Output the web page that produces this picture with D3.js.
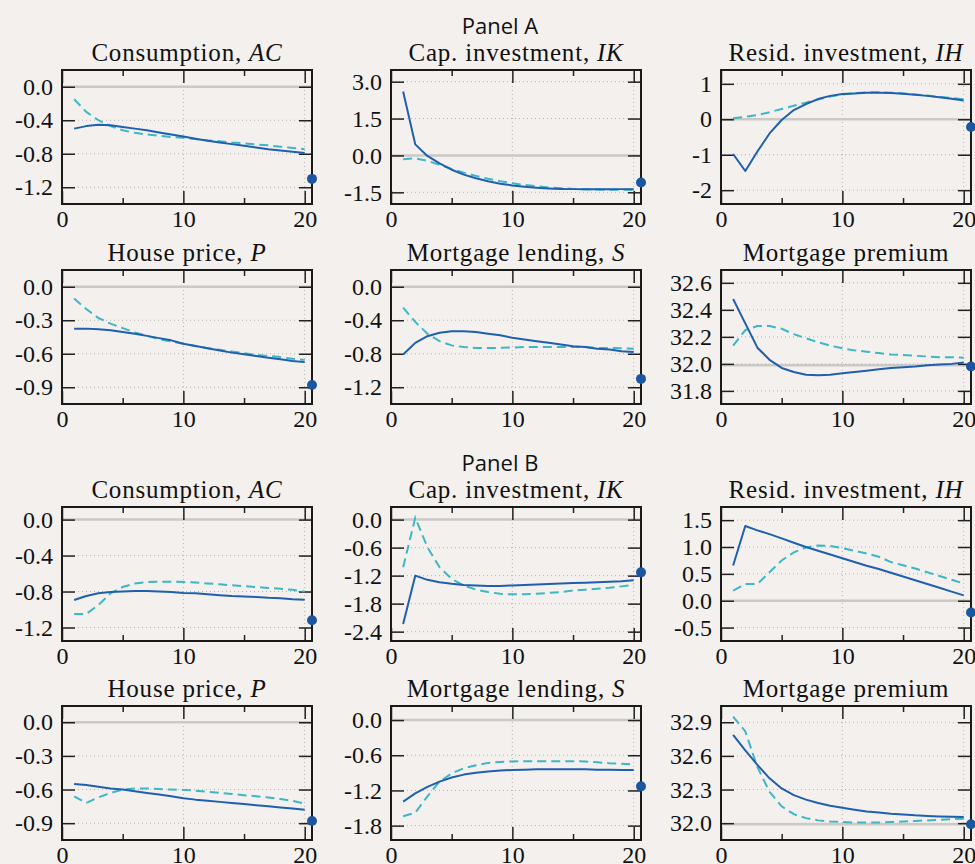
<!DOCTYPE html>
<html>
<head>
<meta charset="utf-8">
<script src="https://cdn.jsdelivr.net/npm/d3@7"></script>
<style>
  body { margin: 0; background: #f3f0ed; }
  svg { display: block; }
</style>
</head>
<body>
<svg id="chart"></svg>
<script>
'use strict';

// periods after the shock
var periods = [1, 2, 3, 4, 5, 6, 7, 8, 9, 10, 11, 12, 13, 14, 15, 16, 17, 18, 19, 20];
var xTicksMajor = [0, 10, 20];
var xTicksMinor = [5, 15];

var panelNames = ["Panel A", "Panel B"];
var titles = [
    ["Consumption, ", "AC"],
    ["Cap. investment, ", "IK"],
    ["Resid. investment, ", "IH"],
    ["House price, ", "P"],
    ["Mortgage lending, ", "S"],
    ["Mortgage premium", ""]
];

// ---- Panel A ----
var aConsSolid = [-0.50, -0.47, -0.455, -0.46, -0.48, -0.50, -0.52, -0.545, -0.57, -0.595, -0.62, -0.645, -0.665, -0.685, -0.705, -0.725, -0.745, -0.76, -0.775, -0.79];
var aConsDash = [-0.15, -0.30, -0.40, -0.47, -0.52, -0.55, -0.57, -0.585, -0.60, -0.61, -0.625, -0.64, -0.65, -0.665, -0.675, -0.69, -0.70, -0.715, -0.73, -0.745];
var aCapSolid = [2.6, 0.45, -0.02, -0.32, -0.58, -0.78, -0.93, -1.05, -1.15, -1.22, -1.27, -1.31, -1.34, -1.36, -1.37, -1.38, -1.38, -1.38, -1.37, -1.37];
var aCapDash = [-0.15, -0.12, -0.22, -0.38, -0.55, -0.70, -0.83, -0.95, -1.05, -1.13, -1.20, -1.25, -1.30, -1.33, -1.36, -1.38, -1.39, -1.40, -1.40, -1.40];
var aResSolid = [-0.98, -1.46, -0.91, -0.40, -0.02, 0.26, 0.43, 0.57, 0.66, 0.71, 0.73, 0.75, 0.75, 0.74, 0.72, 0.69, 0.66, 0.62, 0.58, 0.53];
var aResDash = [0.03, 0.07, 0.12, 0.20, 0.29, 0.38, 0.47, 0.56, 0.64, 0.70, 0.74, 0.76, 0.76, 0.75, 0.73, 0.70, 0.67, 0.63, 0.60, 0.56];
var aHouseSolid = [-0.375, -0.375, -0.38, -0.39, -0.405, -0.42, -0.44, -0.46, -0.48, -0.51, -0.53, -0.55, -0.57, -0.59, -0.605, -0.62, -0.635, -0.65, -0.665, -0.675];
var aHouseDash = [-0.105, -0.20, -0.28, -0.33, -0.37, -0.41, -0.44, -0.47, -0.49, -0.51, -0.53, -0.55, -0.565, -0.58, -0.595, -0.61, -0.62, -0.63, -0.645, -0.655];
var aLendSolid = [-0.81, -0.67, -0.59, -0.55, -0.53, -0.53, -0.54, -0.56, -0.58, -0.61, -0.63, -0.65, -0.67, -0.69, -0.71, -0.72, -0.74, -0.75, -0.77, -0.78];
var aLendDash = [-0.25, -0.42, -0.56, -0.65, -0.70, -0.72, -0.73, -0.73, -0.73, -0.725, -0.72, -0.72, -0.72, -0.72, -0.72, -0.72, -0.73, -0.73, -0.735, -0.74];
var aPremSolid = [32.48, 32.30, 32.12, 32.03, 31.97, 31.94, 31.92, 31.915, 31.92, 31.93, 31.94, 31.95, 31.96, 31.97, 31.975, 31.98, 31.99, 31.995, 32.0, 32.01];
var aPremDash = [32.135, 32.25, 32.28, 32.28, 32.26, 32.22, 32.19, 32.16, 32.135, 32.115, 32.10, 32.09, 32.08, 32.07, 32.065, 32.06, 32.055, 32.05, 32.05, 32.045];
var aDots = [-1.1, -1.1, -0.22, -0.88, -1.1, 31.98];

// ---- Panel B ----
var bConsSolid = [-0.894, -0.85, -0.82, -0.805, -0.80, -0.795, -0.795, -0.80, -0.805, -0.816, -0.82, -0.83, -0.84, -0.85, -0.855, -0.86, -0.87, -0.875, -0.885, -0.89];
var bConsDash = [-1.05, -1.05, -0.95, -0.82, -0.75, -0.71, -0.695, -0.69, -0.69, -0.695, -0.70, -0.71, -0.72, -0.73, -0.74, -0.75, -0.76, -0.77, -0.78, -0.80];
var bCapSolid = [-2.235, -1.20, -1.29, -1.34, -1.375, -1.40, -1.41, -1.42, -1.42, -1.41, -1.40, -1.39, -1.38, -1.37, -1.36, -1.35, -1.34, -1.33, -1.32, -1.30];
var bCapDash = [-1.02, 0.04, -0.59, -1.02, -1.27, -1.41, -1.50, -1.55, -1.59, -1.60, -1.60, -1.59, -1.57, -1.55, -1.52, -1.50, -1.48, -1.46, -1.43, -1.40];
var bResSolid = [0.656, 1.39, 1.31, 1.24, 1.16, 1.08, 1.00, 0.93, 0.86, 0.79, 0.72, 0.65, 0.59, 0.52, 0.45, 0.38, 0.31, 0.24, 0.17, 0.10];
var bResDash = [0.19, 0.31, 0.31, 0.53, 0.75, 0.90, 0.99, 1.03, 1.02, 0.98, 0.93, 0.88, 0.82, 0.72, 0.66, 0.60, 0.53, 0.46, 0.39, 0.32];
var bHouseSolid = [-0.55, -0.56, -0.575, -0.59, -0.60, -0.615, -0.63, -0.645, -0.66, -0.677, -0.69, -0.70, -0.71, -0.72, -0.73, -0.74, -0.75, -0.76, -0.77, -0.78];
var bHouseDash = [-0.66, -0.72, -0.67, -0.63, -0.60, -0.59, -0.59, -0.595, -0.60, -0.603, -0.61, -0.62, -0.63, -0.64, -0.65, -0.66, -0.67, -0.685, -0.70, -0.727];
var bLendSolid = [-1.39, -1.25, -1.14, -1.05, -0.98, -0.93, -0.90, -0.875, -0.86, -0.85, -0.845, -0.84, -0.84, -0.84, -0.84, -0.84, -0.845, -0.845, -0.85, -0.85];
var bLendDash = [-1.64, -1.58, -1.30, -1.05, -0.91, -0.82, -0.77, -0.73, -0.715, -0.705, -0.70, -0.70, -0.70, -0.70, -0.70, -0.705, -0.72, -0.735, -0.745, -0.755];
var bPremSolid = [32.787, 32.65, 32.52, 32.40, 32.31, 32.25, 32.21, 32.18, 32.155, 32.137, 32.12, 32.105, 32.095, 32.085, 32.078, 32.07, 32.065, 32.06, 32.057, 32.055];
var bPremDash = [32.95, 32.82, 32.50, 32.28, 32.15, 32.08, 32.045, 32.025, 32.015, 32.01, 32.005, 32.005, 32.005, 32.01, 32.015, 32.02, 32.025, 32.03, 32.035, 32.04];
var bDots = [-1.12, -1.13, -0.22, -0.88, -1.13, 31.99];

// y tick values per chart
var aYTicks = [[0, -0.4, -0.8, -1.2], [3, 1.5, 0, -1.5], [1, 0, -1, -2], [0, -0.3, -0.6, -0.9], [0, -0.4, -0.8, -1.2], [32.6, 32.4, 32.2, 32.0, 31.8]];
var bYTicks = [[0, -0.4, -0.8, -1.2], [0, -0.6, -1.2, -1.8, -2.4], [1.5, 1.0, 0.5, 0.0, -0.5], [0, -0.3, -0.6, -0.9], [0, -0.6, -1.2, -1.8], [32.9, 32.6, 32.3, 32.0]];
var refLevels = [0, 0, 0, 0, 0, 31.99];

// ---- layout ----
var svgWidth = 975, svgHeight = 864;
var colLefts = [62, 391, 721];
var rowTops = [70, 270, 507, 706];
var boxW = 250, boxH = 134;
var xMax = 20.6;
var serif = '"Liberation Serif", "Times New Roman", serif';

var locale = d3.formatLocale({ decimal: ".", thousands: ",", grouping: [3], currency: ["$", ""], minus: "-" });
var fmt1 = locale.format(".1f");
var fmt0 = locale.format("d");

var charts = [
    { s: aConsSolid, d: aConsDash, dot: aDots[0], dom: [-1.4, 0.2], ticks: aYTicks[0], f: fmt1 },
    { s: aCapSolid, d: aCapDash, dot: aDots[1], dom: [-1.975, 3.475], ticks: aYTicks[1], f: fmt1 },
    { s: aResSolid, d: aResDash, dot: aDots[2], dom: [-2.39, 1.39], ticks: aYTicks[2], f: fmt0 },
    { s: aHouseSolid, d: aHouseDash, dot: aDots[3], dom: [-1.05, 0.15], ticks: aYTicks[3], f: fmt1 },
    { s: aLendSolid, d: aLendDash, dot: aDots[4], dom: [-1.4, 0.2], ticks: aYTicks[4], f: fmt1 },
    { s: aPremSolid, d: aPremDash, dot: aDots[5], dom: [31.703, 32.695], ticks: aYTicks[5], f: fmt1 },
    { s: bConsSolid, d: bConsDash, dot: bDots[0], dom: [-1.35, 0.14], ticks: bYTicks[0], f: fmt1 },
    { s: bCapSolid, d: bCapDash, dot: bDots[1], dom: [-2.6, 0.27], ticks: bYTicks[1], f: fmt1 },
    { s: bResSolid, d: bResDash, dot: bDots[2], dom: [-0.75, 1.745], ticks: bYTicks[2], f: fmt1 },
    { s: bHouseSolid, d: bHouseDash, dot: bDots[3], dom: [-1.05, 0.145], ticks: bYTicks[3], f: fmt1 },
    { s: bLendSolid, d: bLendDash, dot: bDots[4], dom: [-2.045, 0.24], ticks: bYTicks[4], f: fmt1 },
    { s: bPremSolid, d: bPremDash, dot: bDots[5], dom: [31.85, 33.045], ticks: bYTicks[5], f: fmt1 }
];

var svg = d3.select('#chart')
    .attr("width", svgWidth)
    .attr("height", svgHeight);

svg.append("rect")
    .attr("width", svgWidth)
    .attr("height", svgHeight)
    .attr("fill", "#f3f0ed");

// panel headings
svg.selectAll("text.panel-title")
    .data(panelNames)
    .enter().append("text")
    .attr("class", "panel-title")
    .attr("x", 500)
    .attr("y", function (d, i) { return i === 0 ? 34 : 471; })
    .attr("text-anchor", "middle")
    .style("font-family", '"Open Sans", sans-serif')
    .style("font-size", "22px")
    .style("fill", "#111")
    .text(function (d) { return d; });

charts.forEach(function (c, i) {
    var row = Math.floor(i / 3);
    var col = i % 3;
    var titleIdx = (i % 6);

    var g = svg.append("g")
        .attr("transform", "translate(" + colLefts[col] + "," + rowTops[row] + ")");

    var x = d3.scaleLinear().domain([0, xMax]).range([0, boxW]);
    var y = d3.scaleLinear().domain(c.dom).range([boxH, 0]);

    // grid
    g.selectAll(".hgrid")
        .data(c.ticks)
        .enter().append("line")
        .attr("x1", 0).attr("x2", boxW)
        .attr("y1", function (d) { return y(d); })
        .attr("y2", function (d) { return y(d); })
        .attr("stroke", "#b5b2ae")
        .attr("stroke-width", 1)
        .attr("stroke-dasharray", "1,3");

    g.selectAll(".vgrid")
        .data([10, 20])
        .enter().append("line")
        .attr("x1", function (d) { return x(d); })
        .attr("x2", function (d) { return x(d); })
        .attr("y1", 0).attr("y2", boxH)
        .attr("stroke", "#b5b2ae")
        .attr("stroke-width", 1)
        .attr("stroke-dasharray", "1,3");

    // reference level
    g.append("line")
        .attr("x1", 0).attr("x2", boxW)
        .attr("y1", y(refLevels[titleIdx]))
        .attr("y2", y(refLevels[titleIdx]))
        .attr("stroke", "#cbc9c6")
        .attr("stroke-width", 2.5);

    // axes: inward ticks on all sides
    var axL = d3.axisLeft(y).tickValues(c.ticks).tickSize(-13).tickPadding(9).tickFormat(c.f);
    var axR = d3.axisRight(y).tickValues(c.ticks).tickSize(-13).tickFormat("");
    var axB = d3.axisBottom(x).tickValues(xTicksMajor).tickSize(-13).tickPadding(6).tickFormat(fmt0);
    var axT = d3.axisTop(x).tickValues(xTicksMajor).tickSize(-13).tickFormat("");
    var axBm = d3.axisBottom(x).tickValues(xTicksMinor).tickSize(-6).tickFormat("");
    var axTm = d3.axisTop(x).tickValues(xTicksMinor).tickSize(-6).tickFormat("");

    function styleAxis(sel) {
        sel.select(".domain").remove();
        sel.selectAll(".tick line").attr("stroke", "#222").attr("stroke-width", 1.5);
        sel.selectAll(".tick text")
            .style("font-family", serif)
            .style("font-size", "24px")
            .style("fill", "#111");
    }

    g.append("g").call(axL).call(styleAxis);
    g.append("g").attr("transform", "translate(" + boxW + ",0)").call(axR).call(styleAxis);
    g.append("g").attr("transform", "translate(0," + boxH + ")").call(axB).call(styleAxis);
    g.append("g").call(axT).call(styleAxis);
    g.append("g").attr("transform", "translate(0," + boxH + ")").call(axBm).call(styleAxis);
    g.append("g").call(axTm).call(styleAxis);

    // lines
    var line = d3.line()
        .x(function (d, k) { return x(periods[k]); })
        .y(function (d) { return y(d); });

    g.append("path")
        .datum(c.d)
        .attr("fill", "none")
        .attr("stroke", "#3db6c6")
        .attr("stroke-width", 2)
        .attr("stroke-dasharray", "9,5")
        .attr("d", line);

    g.append("path")
        .datum(c.s)
        .attr("fill", "none")
        .attr("stroke", "#1f5fae")
        .attr("stroke-width", 2)
        .attr("stroke-linejoin", "round")
        .attr("d", line);

    // frame
    g.append("rect")
        .attr("width", boxW)
        .attr("height", boxH)
        .attr("fill", "none")
        .attr("stroke", "#1a1a1a")
        .attr("stroke-width", 2);

    // observed point
    g.append("circle")
        .attr("cx", x(xMax))
        .attr("cy", y(c.dot))
        .attr("r", 5)
        .attr("fill", "#1d56a0");

    // title
    var t = g.append("text")
        .attr("x", boxW / 2)
        .attr("y", -9)
        .attr("text-anchor", "middle")
        .style("font-family", serif)
        .style("font-size", "25px")
        .style("letter-spacing", "0.8px")
        .style("fill", "#111");
    t.append("tspan").text(titles[titleIdx][0]);
    t.append("tspan").style("font-style", "italic").text(titles[titleIdx][1]);
});
</script>
</body>
</html>
